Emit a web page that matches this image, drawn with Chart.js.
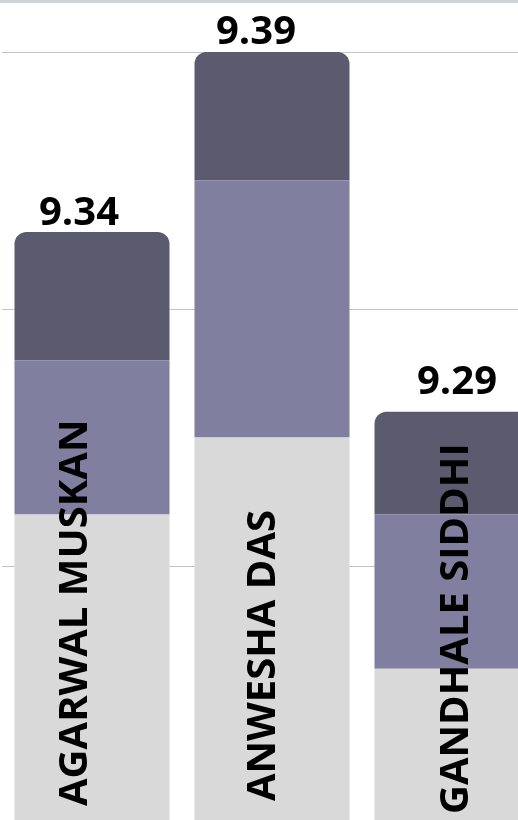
<!DOCTYPE html>
<html>
<head>
<meta charset="utf-8">
<script src="https://cdn.jsdelivr.net/npm/chart.js@4.4.1/dist/chart.umd.min.js"></script>
<style>
    html, body { margin: 0; padding: 0; background: #fff; }
    body { width: 518px; height: 820px; overflow: hidden; }
    .wrap { border-top: 3px solid #cfd4d9; width: 518px; height: 817px; overflow: hidden; }
    canvas { display: block; }
</style>
</head>
<body>
<div class="wrap">
    <canvas id="scoreChart" width="542" height="822"></canvas>
</div>
<script>
// Chart values
const names = ['AGARWAL MUSKAN', 'ANWESHA DAS', 'GANDHALE SIDDHI'];
const totals = [9.34, 9.39, 9.29];
const baseScore = [8.2, 8.5, 7.6];
const midScore = [0.6, 1.0, 0.6];
const topScore = [0.5, 0.5, 0.4];
const yTicks = { min: 7, max: 10, step: 1 };

// label placement tweaks (pixels, relative to each bar)
const valueShift = [-13, -16, 5];
const valueGap = [7, 8, 18];
const nameShift = [-5, 3, 16];
const nameGap = [17, 22, 9];

const colors = {
    base: '#d9d9d9',
    mid: '#807f9f',
    top: '#5c5a6f',
    grid: '#c4c4c4'
};

// Draw totals above bars and names rotated inside bars
const barLabels = {
    id: 'barLabels',
    afterDatasetsDraw(chart) {
        const ctx = chart.ctx;
        const topBars = chart.getDatasetMeta(2).data;
        const baseBars = chart.getDatasetMeta(0).data;
        const bottom = chart.chartArea.bottom;

        ctx.save();
        ctx.font = 'bold 40px "Open Sans"';
        ctx.fillStyle = '#000';

        // totals
        ctx.textAlign = 'center';
        ctx.textBaseline = 'alphabetic';
        topBars.forEach((bar, i) => {
            ctx.fillText(totals[i].toFixed(2), bar.x + valueShift[i], bar.y - valueGap[i]);
        });

        // names
        baseBars.forEach((bar, i) => {
            ctx.save();
            ctx.translate(bar.x + nameShift[i], bottom - nameGap[i]);
            ctx.rotate(-Math.PI / 2);
            ctx.textAlign = 'left';
            ctx.textBaseline = 'alphabetic';
            ctx.fillText(names[i], 0, 0);
            ctx.restore();
        });
        ctx.restore();
    }
};

document.addEventListener('DOMContentLoaded', function() {
    new Chart(document.getElementById('scoreChart'), {
        type: 'bar',
        data: {
            labels: names,
            datasets: [
                {
                    data: baseScore,
                    backgroundColor: colors.base,
                    borderWidth: 0
                },
                {
                    data: midScore,
                    backgroundColor: colors.mid,
                    borderWidth: 0
                },
                {
                    data: topScore,
                    backgroundColor: colors.top,
                    borderWidth: 0,
                    borderRadius: { topLeft: 12, topRight: 12, bottomLeft: 0, bottomRight: 0 },
                    borderSkipped: false
                }
            ]
        },
        options: {
            responsive: false,
            animation: false,
            barPercentage: 155 / 180,
            categoryPercentage: 1,
            layout: {
                padding: { top: 49, bottom: 2, left: 2, right: 0 }
            },
            scales: {
                x: {
                    stacked: true,
                    display: false
                },
                y: {
                    stacked: true,
                    min: yTicks.min,
                    max: yTicks.max,
                    ticks: { display: false, stepSize: yTicks.step },
                    border: { display: false },
                    grid: { color: colors.grid, drawTicks: false }
                }
            },
            plugins: {
                legend: { display: false },
                tooltip: { enabled: false }
            }
        },
        plugins: [barLabels]
    });
});
</script>
</body>
</html>
